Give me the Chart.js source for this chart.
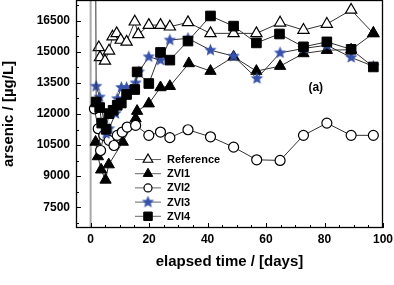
<!DOCTYPE html>
<html>
<head>
<meta charset="utf-8">
<script src="https://cdn.jsdelivr.net/npm/chart.js@4.4.0/dist/chart.umd.min.js"></script>
<style>
  html, body { margin: 0; padding: 0; background: #fff; }
</style>
</head>
<body>
<canvas id="myChart" width="394" height="285"></canvas>
<script>
// axis setup
var xMin = -5, xMax = 100, yMin = 6500, yMax = 17500;
var xTicks = [0, 20, 40, 60, 80, 100];
var yTicks = [7500, 9000, 10500, 12000, 13500, 15000, 16500];

// series (days, arsenic in ug/L)
var refDays = [2.8, 3.2, 4.9, 6.3, 7.5, 8.9, 10.3, 12.3, 15.1, 16.3, 19.9, 23.9, 27.1, 33.3, 41, 48.9, 56.7, 64.8, 72.8, 80.8, 89.1, 96.7];
var refValues = [15210, 14730, 14560, 15050, 15730, 15890, 15570, 15480, 16450, 15840, 16290, 16290, 16210, 16420, 15890, 15890, 15890, 16400, 16050, 16340, 17020, 15890];

var zvi1Days = [1.7, 2.5, 3.6, 5.1, 6.2, 11, 15.4, 15.9, 19.9, 23.9, 27.1, 33.6, 41, 48.9, 56.7, 64.8, 72.8, 80.8, 89.1, 96.7];
var zvi1Values = [10650, 9950, 9310, 8820, 9560, 10650, 11780, 12140, 12500, 13280, 13340, 14440, 14070, 14760, 14070, 14310, 14920, 15080, 15100, 15890];

var zvi2Days = [1.3, 2.6, 3.4, 4.5, 6.3, 8, 9.1, 10.8, 12.5, 15.4, 19.9, 23.9, 27.1, 33.3, 41, 48.9, 56.8, 64.8, 72.8, 80.8, 89.1, 96.7];
var zvi2Values = [12250, 11290, 10240, 10970, 10730, 10480, 10970, 11130, 11370, 11450, 10970, 11130, 10860, 11240, 10900, 10400, 9790, 9760, 10970, 11560, 10970, 10970];

var zvi3Days = [1.9, 3.1, 5.3, 6.3, 8.5, 9.1, 10.5, 12.3, 15.4, 16.5, 19.9, 23.9, 27.1, 33.3, 41, 48.9, 56.9, 64.8, 72.8, 80.8, 89.1, 96.7];
var zvi3Values = [13340, 12820, 11050, 11290, 12020, 12740, 13280, 13280, 13500, 14030, 14760, 14600, 15570, 15650, 15080, 14790, 13710, 14950, 15160, 15320, 14730, 14300];

// first ZVI4 value is the off-scale initial concentration
var zvi4Days = [1.2, 1.9, 3.1, 3.8, 5.3, 6.3, 7.7, 9.1, 10.5, 12.3, 15.1, 15.9, 19.9, 23.9, 27.1, 33.3, 41, 48.9, 56.7, 64.6, 72.8, 80.8, 89.1, 96.7];
var zvi4Values = [40000, 12580, 12310, 11560, 11260, 12020, 12180, 12420, 12530, 12940, 13180, 14030, 13470, 14970, 14600, 15520, 16730, 16240, 15430, 15860, 15240, 15480, 15120, 14270];

var FONT = 'Arial, "Liberation Sans", Helvetica, sans-serif';
var LINE = '#333';
var BLUE = '#3552b0';

function pts(days, vals) {
  return days.map(function (d, i) { return {x: d, y: vals[i]}; });
}

function makeStar(r, color) {
  var s = Math.ceil(r * 2 + 2);
  var c = document.createElement('canvas');
  c.width = s; c.height = s;
  var g = c.getContext('2d');
  g.fillStyle = color;
  g.beginPath();
  for (var i = 0; i < 10; i++) {
    var a = -Math.PI / 2 + i * Math.PI / 5;
    var rr = i % 2 ? r * 0.45 : r;
    g.lineTo(s / 2 + rr * Math.cos(a), s / 2 + rr * Math.sin(a));
  }
  g.closePath();
  g.fill();
  return c;
}
var star = makeStar(6.5, BLUE);

function hideOffScale(size) {
  return function (c) { return c.raw && c.raw.y > yMax ? 0 : size; };
}

var datasets = [
  {label: 'Reference', data: pts(refDays, refValues), pointStyle: 'triangle', pointRadius: 6.5,
   backgroundColor: '#fff', borderColor: LINE, pointBorderColor: '#000', pointBorderWidth: 1.2, order: 5},
  {label: 'ZVI1', data: pts(zvi1Days, zvi1Values), pointStyle: 'triangle', pointRadius: 6.5,
   backgroundColor: '#000', borderColor: LINE, pointBorderColor: '#000', pointBorderWidth: 1, order: 4},
  {label: 'ZVI2', data: pts(zvi2Days, zvi2Values), pointStyle: 'circle', pointRadius: 5,
   backgroundColor: '#fff', borderColor: LINE, pointBorderColor: '#000', pointBorderWidth: 1.2, order: 3},
  {label: 'ZVI3', data: pts(zvi3Days, zvi3Values), pointStyle: star, pointRadius: 6,
   backgroundColor: BLUE, borderColor: LINE, pointBorderColor: BLUE, pointBorderWidth: 0, order: 2},
  {label: 'ZVI4', data: pts(zvi4Days, zvi4Values), pointStyle: 'rect', pointRadius: hideOffScale(6.8),
   backgroundColor: '#000', borderColor: LINE, pointBorderColor: '#000', pointBorderWidth: 1, order: 1},
  {label: 'start', data: [{x: 0, y: yMin}, {x: 0, y: yMax}], pointRadius: 0,
   borderColor: '#aaa', borderWidth: 2, order: 6, noLegend: true}
];
datasets.forEach(function (d) {
  d.showLine = true;
  d.fill = false;
  d.tension = 0;
  if (!d.borderWidth) d.borderWidth = 1;
  d.pointBackgroundColor = d.backgroundColor;
});

var frame = {
  id: 'frame',
  afterDraw: function (chart) {
    var ctx = chart.ctx, a = chart.chartArea;
    var sx = chart.scales.x, sy = chart.scales.y;
    ctx.save();
    ctx.strokeStyle = '#000';
    ctx.lineWidth = 1.3;
    ctx.strokeRect(a.left + 0.5, a.top + 0.5, a.right - a.left - 1, a.bottom - a.top - 1);
    ctx.lineWidth = 1;
    ctx.beginPath();
    for (var v = xTicks[0]; v <= xMax; v += 5) {
      var px = Math.round(sx.getPixelForValue(v)) + 0.5;
      var len = (v % 20 === 0) ? 5 : 3;
      ctx.moveTo(px, a.bottom); ctx.lineTo(px, a.bottom - len);
    }
    for (var w = yTicks[0] - 750; w < yMax; w += 750) {
      var py = Math.round(sy.getPixelForValue(w)) + 0.5;
      var l2 = yTicks.indexOf(w) >= 0 ? 5 : 3;
      ctx.moveTo(a.left, py); ctx.lineTo(a.left + l2, py);
    }
    ctx.stroke();

    // panel label
    ctx.fillStyle = '#000';
    ctx.font = 'bold 12px ' + FONT;
    ctx.textAlign = 'center';
    ctx.textBaseline = 'middle';
    ctx.fillText('(a)', sx.getPixelForValue(77), sy.getPixelForValue(13250));

    // legend inside the plot
    ctx.font = 'bold 11px ' + FONT;
    ctx.textAlign = 'left';
    var row = 0;
    chart.data.datasets.forEach(function (ds) {
      if (ds.noLegend) return;
      var y = 159.5 + row * 14.2;
      row++;
      ctx.strokeStyle = '#666';
      ctx.lineWidth = 1;
      ctx.beginPath();
      ctx.moveTo(135, y); ctx.lineTo(161, y);
      ctx.stroke();
      ctx.fillStyle = ds.backgroundColor;
      ctx.strokeStyle = ds.pointBorderColor;
      ctx.lineWidth = ds.pointBorderWidth;
      var r = typeof ds.pointRadius === 'function' ? 6 : ds.pointRadius - 1;
      Chart.helpers.drawPoint(ctx, {pointStyle: ds.pointStyle, radius: r, rotation: 0,
        borderWidth: ds.pointBorderWidth}, 148, y);
      ctx.fillStyle = '#000';
      ctx.fillText(ds.label, 167, y + 0.5);
    });
    ctx.restore();
  }
};

function plainLabel(v) { return String(v); }

var ctx = document.getElementById('myChart').getContext('2d');
var myChart = new Chart(ctx, {
  type: 'scatter',
  data: {datasets: datasets},
  options: {
    responsive: false,
    animation: false,
    layout: {autoPadding: false, padding: {left: 0, right: 11, top: 0, bottom: 0}},
    plugins: {
      legend: {display: false},
      tooltip: {enabled: false}
    },
    scales: {
      x: {
        type: 'linear',
        min: xMin,
        max: xMax,
        afterBuildTicks: function (s) { s.ticks = xTicks.map(function (v) { return {value: v}; }); },
        afterFit: function (s) { s.height = 57; s.paddingLeft = 0; s.paddingRight = 0; },
        grid: {display: false, drawTicks: false},
        border: {display: false},
        ticks: {color: '#000', font: {family: FONT, size: 12, weight: 'bold'}, padding: 4, maxRotation: 0,
          callback: plainLabel},
        title: {display: true, text: 'elapsed time / [days]', color: '#000',
          font: {family: FONT, size: 15, weight: 'bold'}, padding: {top: 4, bottom: 14}}
      },
      y: {
        type: 'linear',
        min: yMin,
        max: yMax,
        afterBuildTicks: function (s) { s.ticks = yTicks.map(function (v) { return {value: v}; }); },
        afterFit: function (s) { s.width = 76; s.paddingTop = 0; s.paddingBottom = 0; },
        grid: {display: false, drawTicks: false},
        border: {display: false},
        ticks: {color: '#000', font: {family: FONT, size: 12, weight: 'bold'}, padding: 6,
          callback: plainLabel},
        title: {display: true, text: 'arsenic / [µg/L]', color: '#000',
          font: {family: FONT, size: 15, weight: 'bold'}, padding: {top: 0, bottom: 4}}
      }
    }
  },
  plugins: [frame]
});
</script>
</body>
</html>
